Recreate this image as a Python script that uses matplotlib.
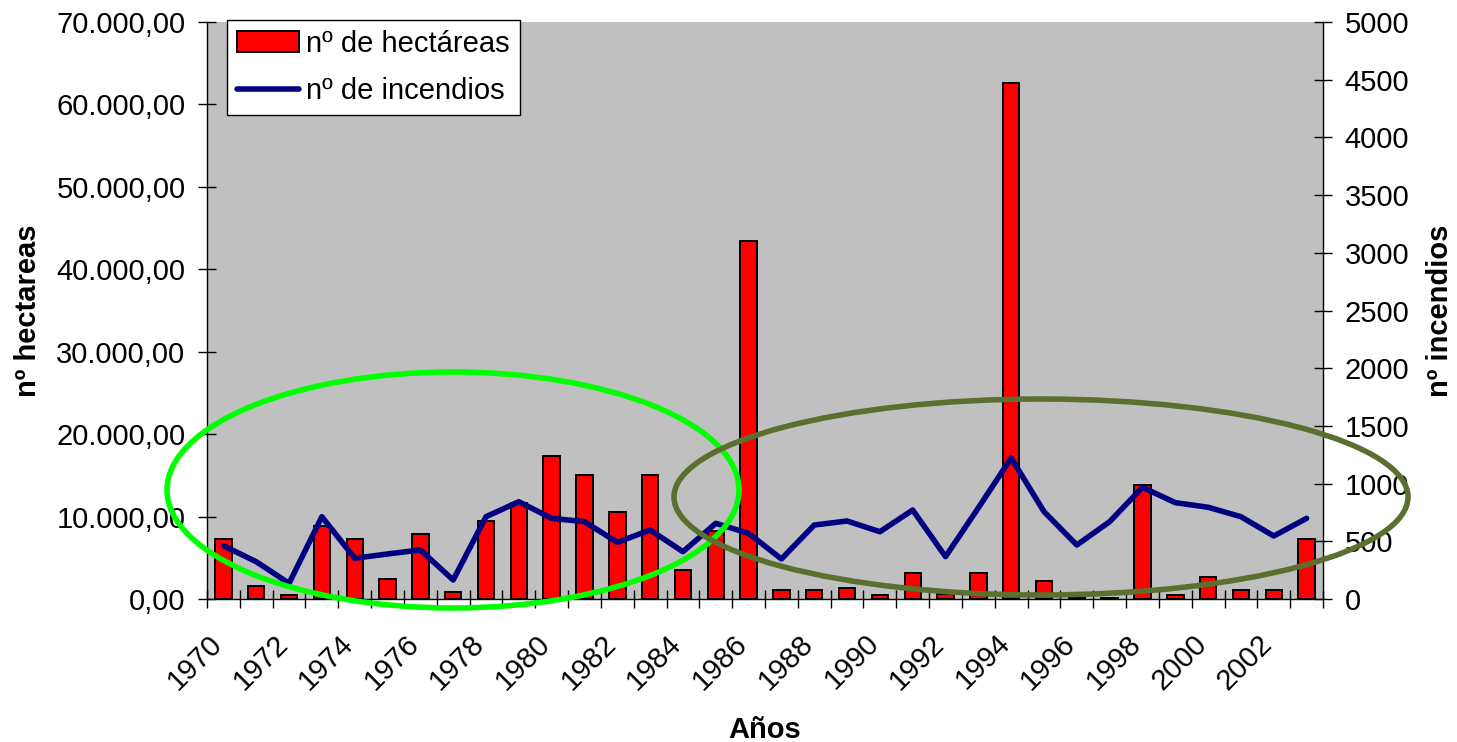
import matplotlib
matplotlib.use('Agg')
import matplotlib.pyplot as plt
from matplotlib.patches import Ellipse
from matplotlib.ticker import FuncFormatter, MultipleLocator
import numpy as np

plt.rcParams['font.family'] = ['Liberation Sans', 'DejaVu Sans']

# data
years = list(range(1970, 2004))
hectareas = [7300, 1600, 500, 8900, 7300, 2400, 7850, 800, 9500, 11700,
             17300, 15100, 10500, 15100, 3500, 8300, 43400, 1050, 1050, 1300,
             500, 3200, 600, 3200, 62600, 2150, 200, 100, 13800, 500,
             2700, 1100, 1100, 7300]
incendios = [462, 323, 136, 713, 353, 390, 425, 165, 713, 843,
             699, 670, 491, 598, 410, 656, 569, 347, 641, 676,
             583, 771, 367, 790, 1222, 757, 468, 670, 968, 835,
             795, 713, 546, 699]
label_years = list(range(1970, 2003, 2))

W, H = 1457, 742
fig = plt.figure(figsize=(W / 100, H / 100), dpi=100)
ax1 = fig.add_axes([207 / W, 1 - 599 / H, (1323 - 207) / W, (599 - 22) / H])
ax2 = ax1.twinx()

ax1.set_facecolor('#c0c0c0')
ax2.set_facecolor('none')

bars = ax1.bar(years, hectareas, width=0.5, color='#ff0000', edgecolor='black',
               linewidth=1.4, label='nº de hectáreas', zorder=2)
line, = ax2.plot(years, incendios, color='#000080', linewidth=4,
                 solid_capstyle='round', label='nº de incendios', zorder=3)

ax1.set_xlim(1969.5, 2003.5)
ax1.set_ylim(0, 70000)
ax2.set_ylim(0, 5000)

# y axes
ax1.yaxis.set_major_locator(MultipleLocator(10000))
ax1.yaxis.set_major_formatter(FuncFormatter(
    lambda v, p: f"{v:,.2f}".replace(',', 'X').replace('.', ',').replace('X', '.')))
ax2.yaxis.set_major_locator(MultipleLocator(500))
ax2.yaxis.set_major_formatter(FuncFormatter(lambda v, p: f"{int(v)}"))
ax1.tick_params(axis='y', direction='inout', length=13, width=1, labelsize=21, pad=9)
ax2.tick_params(axis='y', direction='inout', length=13, width=1, labelsize=21, pad=9)

# x axis: ticks at category boundaries, labels every second year
ax1.set_xticks(np.arange(1969.5, 2004, 1))
ax1.set_xticklabels([])
ax1.set_xticks(label_years, minor=True)
ax1.set_xticklabels([str(y) for y in label_years], minor=True, rotation=45,
                    ha='right', va='baseline', rotation_mode='anchor')
ax1.tick_params(axis='x', which='major', direction='inout', length=13, width=1)
ax1.tick_params(axis='x', which='minor', length=0, labelsize=21, pad=33)

for s in ['top']:
    ax1.spines[s].set_visible(False)
    ax2.spines[s].set_visible(False)
ax1.spines['right'].set_visible(False)
ax2.spines['left'].set_visible(False)
ax2.spines['bottom'].set_visible(False)
for a in (ax1, ax2):
    for s in a.spines.values():
        s.set_linewidth(1)

ax1.set_ylabel('nº hectareas', fontsize=21, fontweight='bold', labelpad=10)
ax2.set_ylabel('nº incendios', fontsize=21, fontweight='bold', labelpad=12)
ax1.set_xlabel('Años', fontsize=21, fontweight='bold', labelpad=15)

leg = ax2.legend([bars, line], ['nº de hectáreas', 'nº de incendios'],
                 loc='upper left', bbox_to_anchor=(0.018, 1.004), borderaxespad=0,
                 fontsize=21, frameon=True, fancybox=False, framealpha=1,
                 edgecolor='black', handlelength=2.1, handletextpad=0.25,
                 labelspacing=0.65, borderpad=0.35)
leg.get_frame().set_linewidth(1)

# annotation ellipses (figure pixel positions)
fig.add_artist(Ellipse((453 / W, 1 - 490 / H), 572 / W, 236 / H, transform=fig.transFigure,
                       fill=False, edgecolor='#00ff00', linewidth=4, zorder=5))
fig.add_artist(Ellipse((1041 / W, 1 - 497 / H), 734 / W, 196 / H, transform=fig.transFigure,
                       fill=False, edgecolor='#5b702f', linewidth=4, zorder=5))

fig.savefig('out.png', dpi=100)
